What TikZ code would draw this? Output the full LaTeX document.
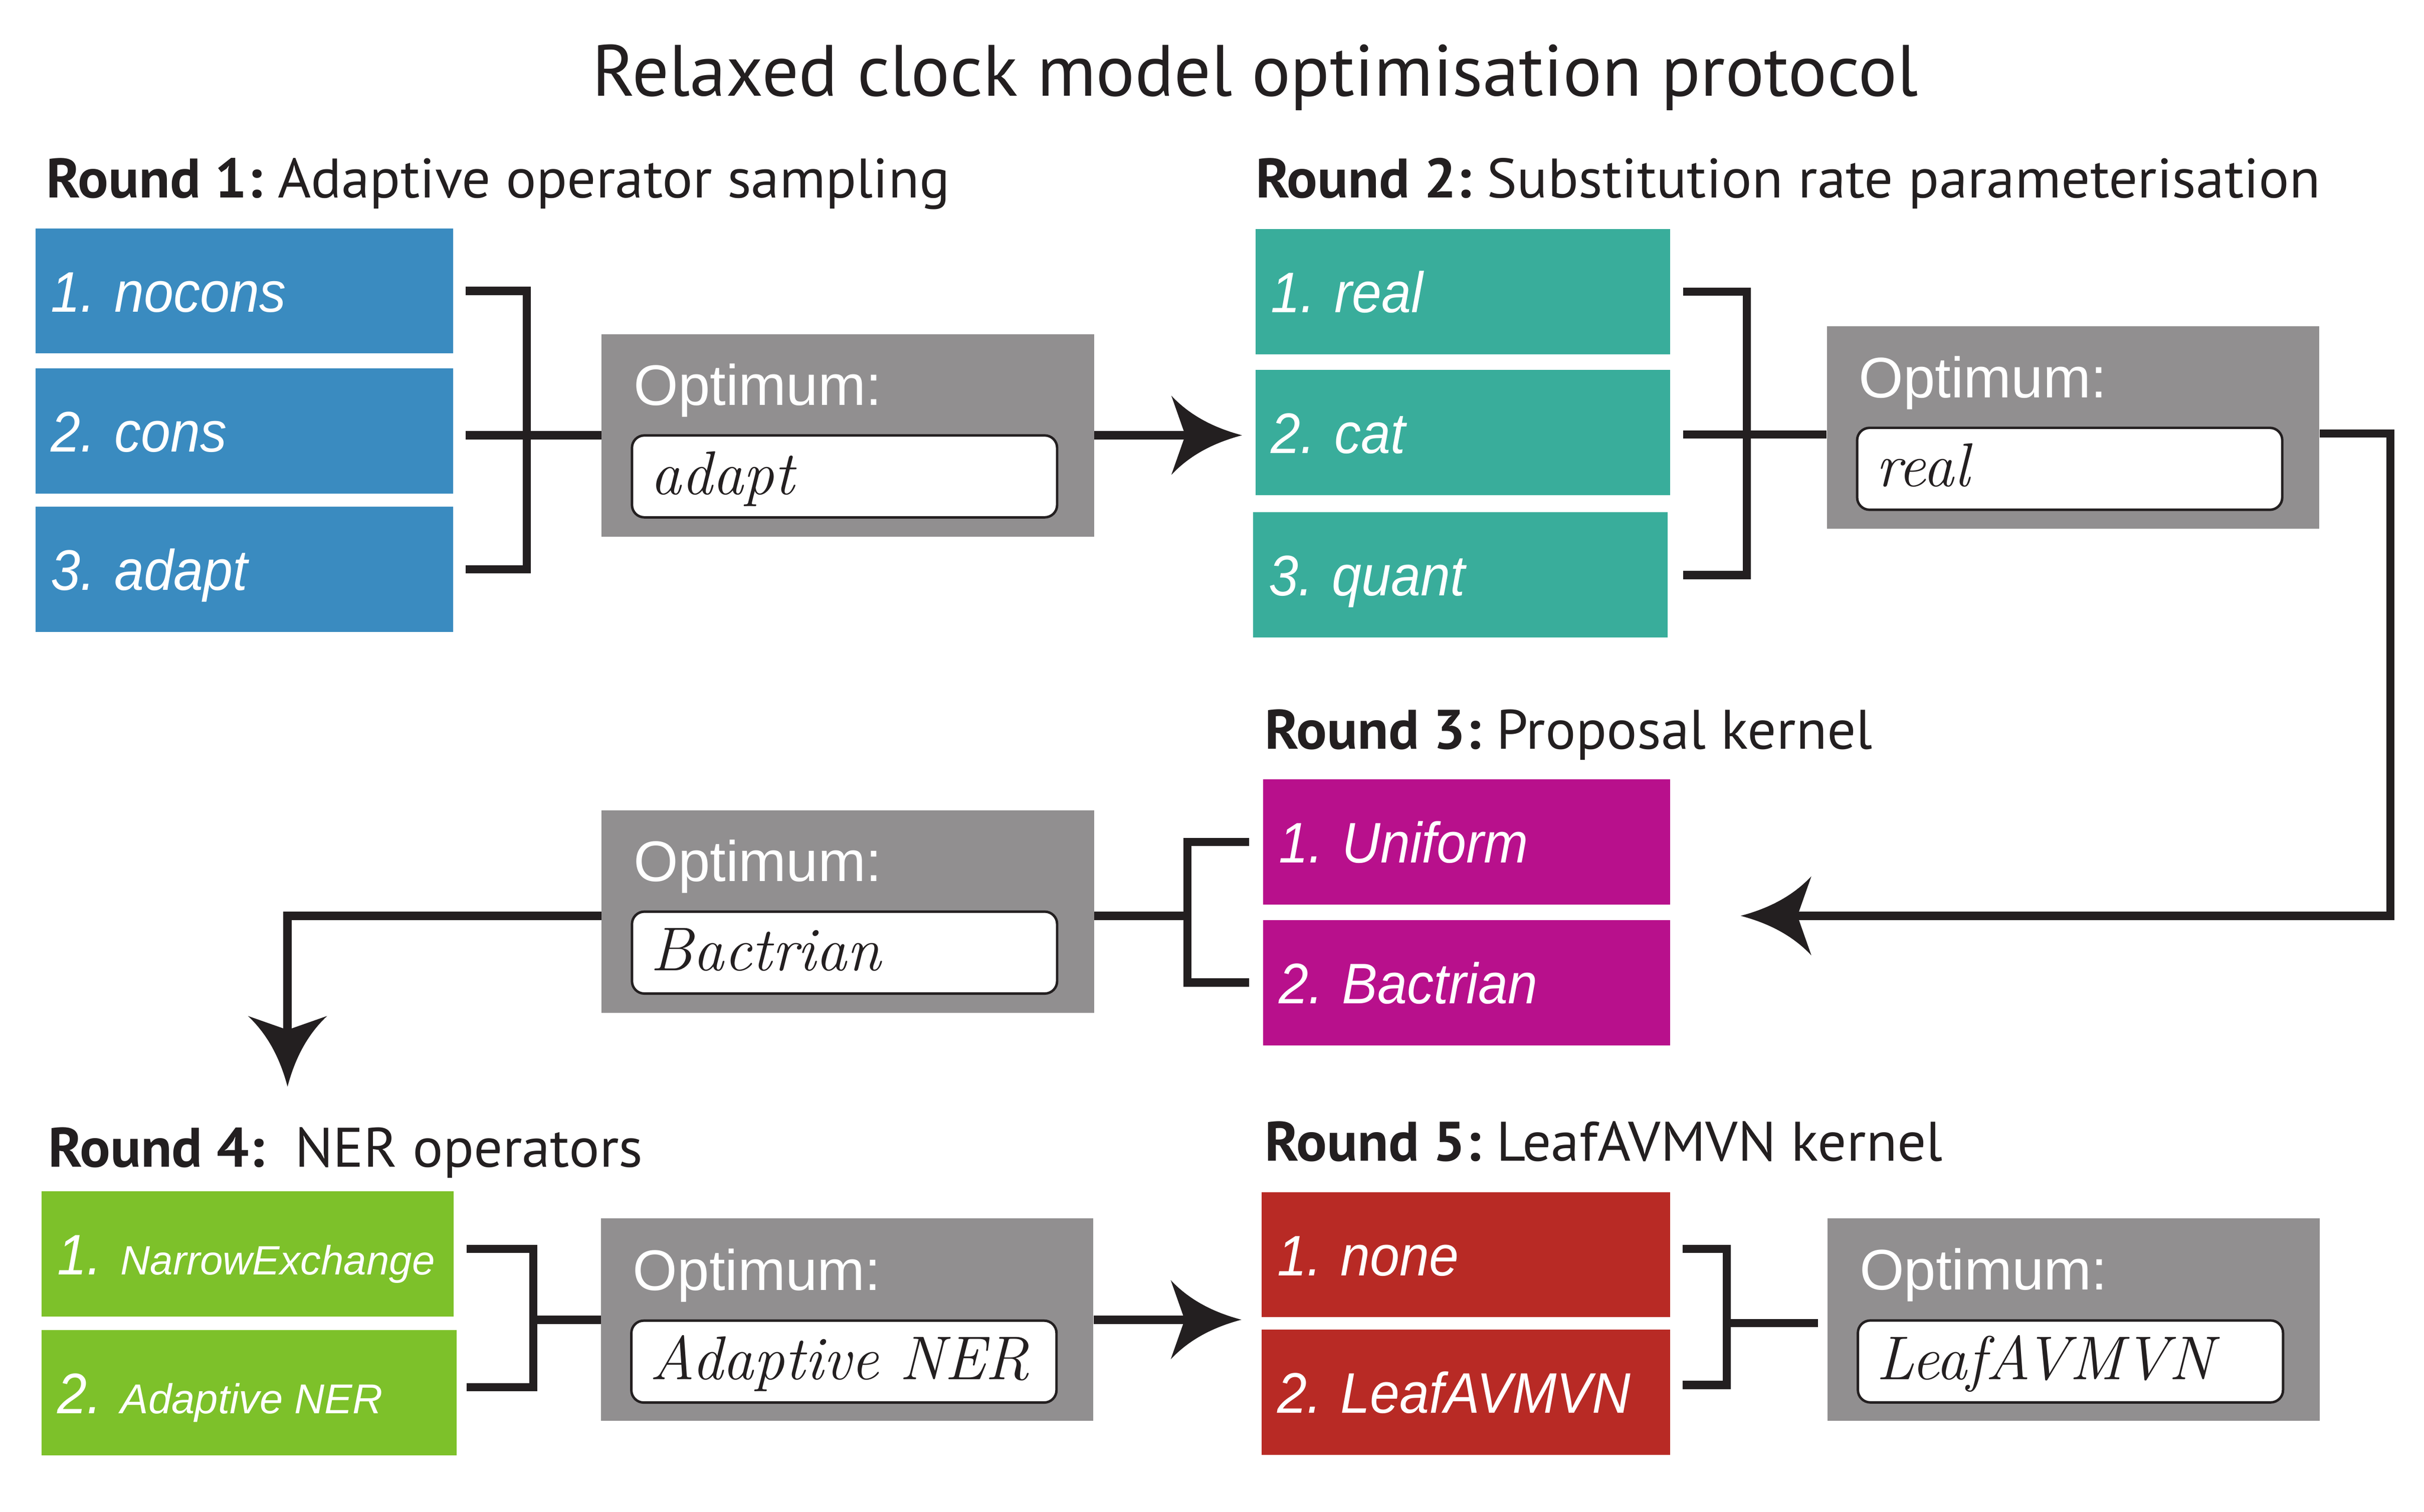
\documentclass[tikz,border=0pt]{standalone}
\usepackage{fontspec}
\newfontfamily\ttl{PT Sans}
\newfontfamily\hdr[FakeStretch=1.022]{PT Sans}
\newfontfamily\lab[FakeStretch=0.93]{Liberation Sans}
\newfontfamily\optf{Liberation Sans}
\usetikzlibrary{arrows.meta,calc}
\definecolor{cblue}{HTML}{3A8BC0}
\definecolor{cteal}{HTML}{39AD9B}
\definecolor{cmag}{HTML}{B8108C}
\definecolor{cgreen}{HTML}{7DC12A}
\definecolor{cred}{HTML}{B82A25}
\definecolor{cgray}{HTML}{918F90}
\definecolor{cline}{HTML}{231F20}
\frenchspacing
\pgfdeclarearrow{
  name = ConcaveHead,
  setup code = {
    \pgfarrowssettipend{0pt}
    \pgfarrowssetlineend{-30pt}
    \pgfarrowssetbackend{-45.7pt}
    \pgfarrowsupperhullpoint{0pt}{0pt}
    \pgfarrowsupperhullpoint{-45.7pt}{25.6pt}
  },
  drawing code = {
    \pgfsetfillcolor{cline}
    \pgfpathmoveto{\pgfqpoint{0pt}{0pt}}
    \pgfpathcurveto{\pgfqpoint{-15pt}{4pt}}{\pgfqpoint{-32pt}{11pt}}{\pgfqpoint{-45.7pt}{25.6pt}}
    \pgfpathlineto{\pgfqpoint{-36.7pt}{0pt}}
    \pgfpathlineto{\pgfqpoint{-45.7pt}{-25.6pt}}
    \pgfpathcurveto{\pgfqpoint{-32pt}{-11pt}}{\pgfqpoint{-15pt}{-4pt}}{\pgfqpoint{0pt}{0pt}}
    \pgfpathclose
    \pgfusepathqfill
  }
}
\begin{document}
\begin{tikzpicture}[x=1pt,y=-1pt,
  item/.style={anchor=north west, fill=#1, text=white, inner xsep=10pt, inner ysep=0pt,
    align=left, minimum height=81pt, text height=27pt, text depth=0pt,
    font=\lab\itshape\fontsize{37}{40}\selectfont},
  hdrtext/.style={anchor=base west, inner sep=0pt, text=cline, font=\hdr\fontsize{36}{40}\selectfont},
  opt/.style={anchor=north west, fill=cgray, minimum width=318.5pt, minimum height=131pt, inner sep=0pt},
  opttitle/.style={anchor=base west, inner sep=0pt, text=white, font=\optf\fontsize{37}{40}\selectfont},
  optval/.style={anchor=north west, draw=cline, line width=1.6pt, fill=white, rounded corners=8pt,
    text width=251pt, inner xsep=12pt, inner ysep=0pt, minimum height=53pt,
    text height=23pt, text depth=0pt, align=left, text=cline,
    font=\itshape\fontsize{40}{44}\selectfont},
  conn/.style={draw=cline, line width=5.3pt},
  arr/.style={conn, -{ConcaveHead}}
]
\useasboundingbox (0,0) rectangle (1568,978.2);
\fill[white] (0,0) rectangle (1568,978.2);

% title
\node[anchor=base, inner sep=0pt, text=cline, font=\ttl\fontsize{47}{50}\selectfont] (title) at (812,62)
  {Relaxed clock model optimisation protocol};

% ---------- Round 1
\node[hdrtext] (h1) at (29.8,128) {\textbf{Round 1:} Adaptive operator sampling};
\node[item=cblue, text width=250pt] (b11) at (22.8,147.5) {1. nocons};
\node[item=cblue, text width=250pt] (b12) at (22.8,238) {2. cons};
\node[item=cblue, text width=250pt] (b13) at (22.8,327.7) {3. adapt};
\node[opt] (o1) at (389,215.9) {};
\node[opttitle] (o1t) at ($(o1.north west)+(20.7,46.3)$) {Optimum:};
\node[optval] (o1v) at ($(o1.north west)+(19,65)$) {adapt};

% ---------- Round 2
\node[hdrtext] (h2) at (812,128) {\textbf{Round 2:} Substitution rate parameterisation};
\node[item=cteal, text width=248pt] (b21) at (812,148) {1. real};
\node[item=cteal, text width=248pt] (b22) at (812,239) {2. cat};
\node[item=cteal, text width=248pt] (b23) at (810.5,331.3) {3. quant};
\node[opt] (o2) at (1181.5,211) {};
\node[opttitle] (o2t) at ($(o2.north west)+(20.7,46.3)$) {Optimum:};
\node[optval] (o2v) at ($(o2.north west)+(19,65)$) {real};

% ---------- Round 3
\node[hdrtext] (h3) at (818,484.4) {\textbf{Round 3:} Proposal kernel};
\node[item=cmag, text width=243pt] (b31) at (817,504) {1. Uniform};
\node[item=cmag, text width=243pt] (b32) at (817,595) {2. Bactrian};
\node[opt] (o3) at (389,524) {};
\node[opttitle] (o3t) at ($(o3.north west)+(20.7,46.3)$) {Optimum:};
\node[optval] (o3v) at ($(o3.north west)+(19,65)$) {Bactrian};

% ---------- Round 4
\node[hdrtext] (h4) at (31,754.9) {\textbf{Round 4:}\ \ NER operators};
\node[item=cgreen, text width=246.5pt] (b41) at (26.8,770.6)
  {1. {\optf\itshape\fontsize{26.5}{30}\selectfont\spaceskip=0pt\xspaceskip=0pt NarrowExchange}};
\node[item=cgreen, text width=248.5pt] (b42) at (26.8,860.2)
  {2. {\optf\itshape\fontsize{27}{30}\selectfont\spaceskip=0pt\xspaceskip=0pt Adaptive NER}};
\node[opt] (o4) at (388.6,788.1) {};
\node[opttitle] (o4t) at ($(o4.north west)+(20.7,46.5)$) {Optimum:};
\node[optval] (o4v) at ($(o4.north west)+(19,65.5)$) {Adaptive NER};

% ---------- Round 5
\node[hdrtext] (h5) at (818,751) {\textbf{Round 5:} LeafAVMVN kernel};
\node[item=cred, text width=244pt] (b51) at (816,771) {1. none};
\node[item=cred, text width=244pt] (b52) at (816,860) {2. LeafAVMVN};
\node[opt] (o5) at (1182,788) {};
\node[opttitle] (o5t) at ($(o5.north west)+(20.7,46.5)$) {Optimum:};
\node[optval] (o5v) at ($(o5.north west)+(19,65.5)$) {LeafAVMVN};

% ---------- connectors
\draw[conn] ($(b11.east)+(8,0)$) -- ++(39.5,0) |- ($(b13.east)+(8,0)$);
\draw[conn] ($(o1.west -| b12.east)+(8,0)$) -- (o1.west);
\draw[arr] (o1.east) -- ($(o1.east -| b22.west)+(-8.6,0)$);

\draw[conn] ($(b21.east)+(8.5,0)$) -- ++(41,0) |- ($(b23.east)+(10,0)$);
\coordinate (m2) at (1129.5,281);
\draw[conn] ($(m2 -| b22.east)+(8.5,0)$) -- (m2 -| o2.west);
\coordinate (c2) at (1546.3,280.4);
\coordinate (t3) at (1126,592.5);
\draw[arr] (o2.east |- c2) -- (c2) |- (t3);

\draw[conn] ($(b31.west)+(-9,0)$) -- ++(-40,0) |- ($(b32.west)+(-9,0)$);
\coordinate (m3) at (768,592.5);
\draw[conn] (m3) -- (m3 -| o3.east);
\coordinate (c3) at (186,592.5);
\coordinate (t4) at (186,703);
\draw[arr] (m3 -| o3.west) -- (c3) -- (t4);

\coordinate (v4a) at (345,808);
\coordinate (v4b) at (345,897.5);
\draw[conn] ($(b41.east |- v4a)+(8,0)$) -- (v4a) -- (v4b) -- ($(b42.east |- v4b)+(6,0)$);
\draw[conn] (o4.west -| v4a) -- (o4.west);
\draw[arr] (o4.east) -- ($(o4.east -| b51.west)+(-13,0)$);

\coordinate (v5a) at (1117,808);
\coordinate (v5b) at (1117,896);
\draw[conn] ($(b51.east |- v5a)+(8,0)$) -- (v5a) -- (v5b) -- ($(b52.east |- v5b)+(8,0)$);
\coordinate (m5) at (1117,856);
\draw[conn] (m5) -- ($(m5 -| o5.west)+(-6,0)$);
\end{tikzpicture}
\end{document}
